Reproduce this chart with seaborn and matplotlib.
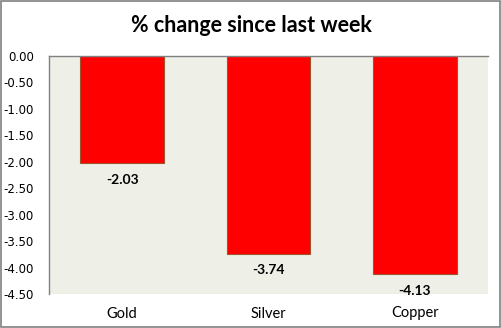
import matplotlib
matplotlib.use("Agg")
import matplotlib.pyplot as plt
import seaborn as sns
import pandas as pd

categories = ["Gold", "Silver", "Copper"]
values = [-2.03, -3.74, -4.13]
yticks = [0.0, -0.5, -1.0, -1.5, -2.0, -2.5, -3.0, -3.5, -4.0, -4.5]
title = "% change since last week"

df = pd.DataFrame({"metal": categories, "change": values})

sns.set_theme(style="white")
plt.rcParams["font.family"] = ["DejaVu Sans"]
plt.rcParams["text.color"] = "black"
plt.rcParams["xtick.color"] = "black"
plt.rcParams["ytick.color"] = "black"

fig = plt.figure(figsize=(5.02, 3.28), dpi=100)
ax = fig.add_axes([49/502, 1-294/328, (488-49)/502, (294-56)/328])
sns.barplot(data=df, x="metal", y="change", color="#FF0000", width=0.57,
            edgecolor="#A0522D", linewidth=0.8, saturation=1, ax=ax)
ax.set_facecolor("#EEF0E8")
ax.set_ylim(-4.5, 0)
ax.set_yticks(yticks)
ax.set_yticklabels([f"{v:.2f}" for v in yticks], fontsize=8.5)
ax.set_xlabel("")
ax.set_ylabel("")
ax.tick_params(axis="x", length=0, pad=9)
for lab in ax.get_xticklabels():
    lab.set_family(["Lato", "DejaVu Sans"])
    lab.set_fontsize(10.5)
ax.tick_params(axis="y", length=0, pad=11)
for s in ["right", "bottom"]:
    ax.spines[s].set_visible(False)
for s in ["left", "top"]:
    ax.spines[s].set_color("#808080")
    ax.spines[s].set_linewidth(1)

for i, v in enumerate(values):
    ax.text(i, v - 0.2, f"{v:.2f}", ha="center", va="top", fontsize=10,
            fontweight="bold", color="black", family=["Lato", "DejaVu Sans"])

fig.text(0.5, 1-25/328, title, ha="center", va="center", fontsize=15.5,
         fontweight="bold", family=["Lato", "DejaVu Sans"], color="black")
fig.patches.append(plt.Rectangle((0.002, 0.003), 0.995, 0.994, transform=fig.transFigure,
                                 fill=False, edgecolor="#808080", linewidth=1.2))
fig.savefig("out.png", dpi=100, facecolor="white")
